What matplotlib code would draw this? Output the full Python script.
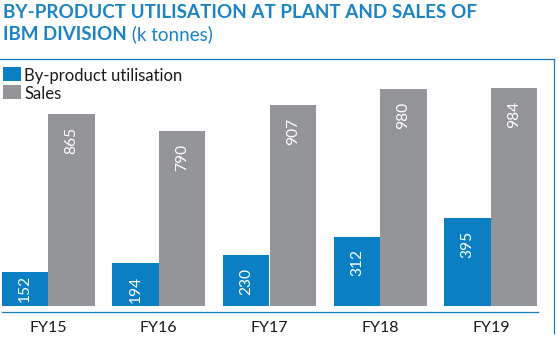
import matplotlib
matplotlib.use("Agg")
import matplotlib.pyplot as plt
import numpy as np
from matplotlib.lines import Line2D
from matplotlib.patches import Rectangle
from matplotlib.transforms import blended_transform_factory

# Data (k tonnes)
years = ["FY15", "FY16", "FY17", "FY18", "FY19"]
byproduct_utilisation = [152, 194, 230, 312, 395]
sales = [865, 790, 907, 980, 984]
series_names = ["By-product utilisation", "Sales"]

title_line1 = "BY-PRODUCT UTILISATION AT PLANT AND SALES OF"
title_line2_bold = "IBM DIVISION"
title_unit = " (k tonnes)"

BLUE = "#0a7fc3"
GREY = "#939598"
TITLE_BLUE = "#1a84c6"
RULE_BLUE = "#1b7ec0"
FONT = ["Lato", "DejaVu Sans"]

W, H = 558, 340
fig = plt.figure(figsize=(W / 100, H / 100), dpi=100)
fig.patch.set_facecolor("white")


def fx(px):
    return px / W


def fy(py):
    return 1 - py / H


# Plot area: pixel scale of 0.2214 px per k tonne, zero at the bar base
px_per_unit = 0.2214
ax = fig.add_axes([0, fy(305.7), 554 / W, (305.7 - 59.3) / H])
group_px = 110.75
ax.set_xlim(-48 / group_px, (554 - 48) / group_px)
ax.set_ylim(0, (305.7 - 59.3) / px_per_unit)
ax.axis("off")

x = np.arange(len(years))
w = 46.5 / group_px
ax.bar(x - w / 2, byproduct_utilisation, w, color=BLUE, linewidth=0)
ax.bar(x + w / 2, sales, w, color=GREY, linewidth=0)

# Value labels inside the bars, rotated
for xs, vals in ((x - w / 2, byproduct_utilisation), (x + w / 2, sales)):
    for xi, v in zip(xs, vals):
        bar_px = v * px_per_unit
        if bar_px < 41:
            ax.text(xi, v / 2, str(v), rotation=90, ha="center",
                    va="center", color="white", fontsize=11.2, family=FONT)
        else:
            ax.annotate(str(v), xy=(xi, v), xytext=(0, -9.2),
                        textcoords="offset points", rotation=90,
                        ha="center", va="top", color="white",
                        fontsize=11.2, family=FONT)

# Category labels
tr = blended_transform_factory(ax.transData, fig.transFigure)
for xi, lab in zip(x, years):
    ax.text(xi, fy(328), lab, transform=tr, ha="center", va="center",
            fontsize=11.5, color="#1a1a1a", family=FONT)

# Blue rules: baseline, top frame and right frame
fig.add_artist(Line2D([fx(2), fx(538)], [fy(311.7)] * 2, color=RULE_BLUE, lw=0.9))
fig.add_artist(Line2D([fx(0), fx(554)], [fy(59.3)] * 2, color=RULE_BLUE, lw=0.9))
fig.add_artist(Line2D([fx(554)] * 2, [fy(59.3), fy(333)], color=RULE_BLUE, lw=0.9))

# Legend
for i, (name, col) in enumerate(zip(series_names, [BLUE, GREY])):
    top = 67 + 18 * i
    fig.add_artist(Rectangle((fx(3), fy(top + 13.7)), fx(18), 13.7 / H,
                             color=col, transform=fig.transFigure, lw=0))
    fig.text(fx(24), fy(top + 13.7), name, fontsize=12.0, va="baseline",
             ha="left", color="#1a1a1a", family=FONT)

# Title
fig.text(fx(3), fy(18.3), title_line1, fontsize=13.6, fontweight="bold",
         color=TITLE_BLUE, va="baseline", family=FONT)
t2 = fig.text(fx(3), fy(40), title_line2_bold, fontsize=13.5, fontweight="bold",
              color=TITLE_BLUE, va="baseline", family=FONT)
fig.canvas.draw()
bb = t2.get_window_extent()
fig.text(bb.x1 / W, fy(40), title_unit, fontsize=13.5, color=TITLE_BLUE,
         va="baseline", family=FONT)

fig.savefig("out.png", dpi=100)
